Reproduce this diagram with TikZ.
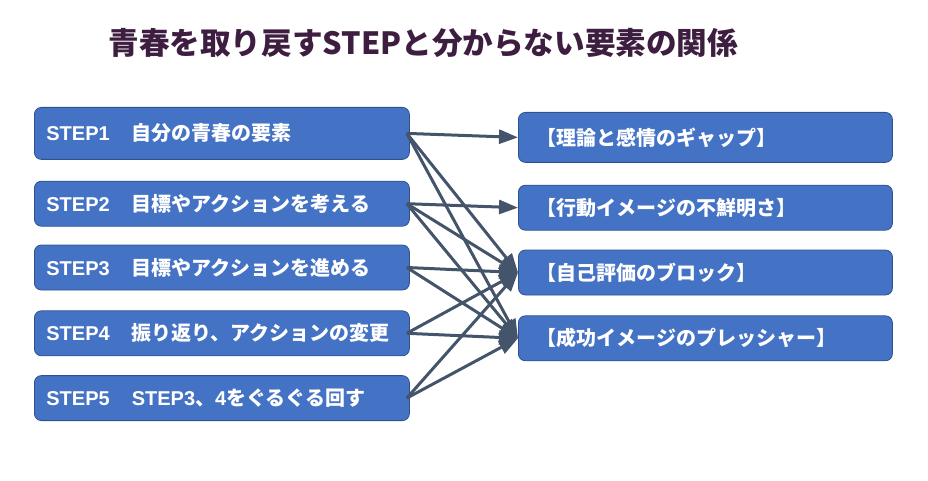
\documentclass[tikz,border=0pt]{standalone}
\usepackage{fontspec}
\usepackage{tikz}
\usetikzlibrary{arrows.meta,positioning}
\newfontfamily\jpfont{Noto Sans CJK JP}
\newfontfamily\latfont{Liberation Sans}
\definecolor{boxblue}{HTML}{4472C4}
\definecolor{boxline}{HTML}{2F528F}
\definecolor{arrowgray}{HTML}{44546A}
\definecolor{titlepurple}{HTML}{3E1E40}
\newcommand{\lat}[1]{{\latfont\bfseries #1}}
\newcommand{\jp}[1]{{\jpfont\bfseries #1}}
\tikzset{
    stepbox/.style={rectangle, rounded corners=7pt, draw=boxline, line width=0.8pt, fill=boxblue, text=white, minimum width=375pt, minimum height=45pt, inner xsep=12pt, text width=351pt, align=left, font=\fontsize{20pt}{23pt}\selectfont},
    issuebox/.style={stepbox, minimum width=374pt, inner xsep=18pt, text width=338pt},
    linkarrow/.style={-{Triangle[length=19pt,width=14pt]}, draw=arrowgray, line width=3pt},
}
\begin{document}
\begin{tikzpicture}[x=1pt, y=-1pt]
\useasboundingbox (0,0) rectangle (928,481);

\node[anchor=west, text=titlepurple, font=\fontsize{30.6pt}{34pt}\selectfont] (title) at (105,43) {\jp{青春を取り戻すSTEPと分からない要素の関係}};

\node[stepbox, anchor=north west, minimum height=52pt] (step1) at (34,107) {\lat{STEP1}\hspace{22pt}\jp{自分の青春の要素}};
\node[stepbox, below=21pt of step1] (step2) {\lat{STEP2}\hspace{22pt}\jp{目標やアクションを考える}};
\node[stepbox, below=18pt of step2] (step3) {\lat{STEP3}\hspace{22pt}\jp{目標やアクションを進める}};
\node[stepbox, below=20pt of step3] (step4) {\lat{STEP4}\hspace{22pt}\jp{振り返り、アクションの変更}};
\node[stepbox, below=19pt of step4] (step5) {\lat{STEP5}\hspace{22pt}\lat{STEP3}\jp{、}\lat{4}\jp{をぐるぐる回す}};

\node[issuebox, anchor=north west, minimum height=50pt] (issue1) at (518,112) {\jp{【理論と感情のギャップ】}};
\node[issuebox, below=22pt of issue1] (issue2) {\jp{【行動イメージの不鮮明さ】}};
\node[issuebox, below=19pt of issue2] (issue3) {\jp{【自己評価のブロック】}};
\node[issuebox, below=20pt of issue3] (issue4) {\jp{【成功イメージのプレッシャー】}};

\draw[linkarrow] ([xshift=-3pt]step1.east) -- (issue1.west);
\draw[linkarrow] ([xshift=-3pt]step1.east) -- (issue3.west);
\draw[linkarrow] ([xshift=-3pt]step1.east) -- (issue4.west);
\draw[linkarrow] ([xshift=-3pt]step2.east) -- (issue2.west);
\draw[linkarrow] ([xshift=-3pt]step2.east) -- (issue3.west);
\draw[linkarrow] ([xshift=-3pt]step2.east) -- (issue4.west);
\draw[linkarrow] ([xshift=-3pt]step3.east) -- (issue3.west);
\draw[linkarrow] ([xshift=-3pt]step3.east) -- (issue4.west);
\draw[linkarrow] ([xshift=-3pt]step4.east) -- (issue3.west);
\draw[linkarrow] ([xshift=-3pt]step4.east) -- (issue4.west);
\draw[linkarrow] ([xshift=-3pt]step5.east) -- (issue3.west);
\draw[linkarrow] ([xshift=-3pt]step5.east) -- (issue4.west);

\end{tikzpicture}
\end{document}
